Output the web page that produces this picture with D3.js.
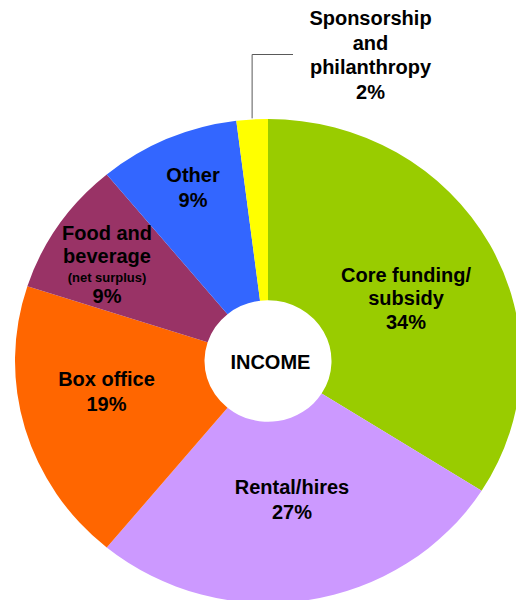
<!DOCTYPE html>
<html>
<head>
<meta charset="utf-8">
<script src="https://cdn.jsdelivr.net/npm/d3@7"></script>
<style>
  html, body { margin: 0; padding: 0; background: #fff; }
  svg { display: block; }
  text { font-family: "Liberation Sans", Arial, sans-serif; font-weight: bold; fill: #000; }
</style>
</head>
<body>
<script>
// ---- data ----
const categories = ["Core funding/subsidy", "Rental/hires", "Box office", "Food and beverage (net surplus)", "Other", "Sponsorship and philanthropy"];
const values = [34, 27, 19, 9, 9, 2];
const percentLabels = ["34%", "27%", "19%", "9%", "9%", "2%"];
const labelLines = [
  ["Core funding/", "subsidy"],
  ["Rental/hires"],
  ["Box office"],
  ["Food and", "beverage", "(net surplus)"],
  ["Other"],
  ["Sponsorship", "and", "philanthropy"]
];
const colors = ["#99CC00", "#CC99FF", "#FF6600", "#993366", "#3366FF", "#FFFF00"];
const centerTitle = "INCOME";

// ---- layout ----
const W = 516, H = 600;
const cx = 268, cy = 361, R = 253, r0 = 63.5, yScale = 0.957;
// label anchor: center x, first baseline y, per-line y offsets
const labelLayout = [
  { x: 406, y: 281.7, dy: [0, 23.5, 47.5], sizes: [20, 20, 20] },
  { x: 292, y: 494, dy: [0, 25], sizes: [20, 20] },
  { x: 106.5, y: 385.7, dy: [0, 25.3], sizes: [20, 20] },
  { x: 107, y: 240, dy: [0, 23, 42, 63], sizes: [20, 20, 13, 20] },
  { x: 193, y: 182, dy: [0, 24.7], sizes: [20, 20] },
  { x: 370.5, y: 25, dy: [0, 24.5, 49, 73.5], sizes: [20, 20, 20, 20] }
];

const svg = d3.select("body").append("svg").attr("width", W).attr("height", H);

const pie = d3.pie().sort(null).value(d => d).startAngle(0).endAngle(2 * Math.PI);
const arcs = pie(values);
const arc = d3.arc().innerRadius(r0).outerRadius(R);

const g = svg.append("g").attr("transform", `translate(${cx},${cy}) scale(1,${yScale})`);
g.selectAll("path").data(arcs).enter().append("path")
  .attr("d", arc)
  .attr("fill", (d, i) => colors[i]);

// leader line for the small slice
const small = arcs[5];
const midA = (small.startAngle + small.endAngle) / 2;
const lx = cx + Math.sin(midA) * R;
const ly = cy - Math.cos(midA) * R * yScale;
svg.append("path")
  .attr("d", `M${lx},${ly - 1}V54.5H293`)
  .attr("fill", "none")
  .attr("stroke", "#595959")
  .attr("stroke-width", 1);

// labels
labelLines.forEach((lines, i) => {
  const L = labelLayout[i];
  const all = lines.concat([percentLabels[i]]);
  const t = svg.append("text").attr("text-anchor", "middle");
  all.forEach((s, k) => {
    t.append("tspan")
      .attr("x", L.x)
      .attr("y", L.y + L.dy[k])
      .style("font-size", L.sizes[k] + "px")
      .text(s);
  });
});

svg.append("text")
  .attr("x", 270.4).attr("y", 369)
  .attr("text-anchor", "middle")
  .style("font-size", "20px")
  .text(centerTitle);
</script>
</body>
</html>
